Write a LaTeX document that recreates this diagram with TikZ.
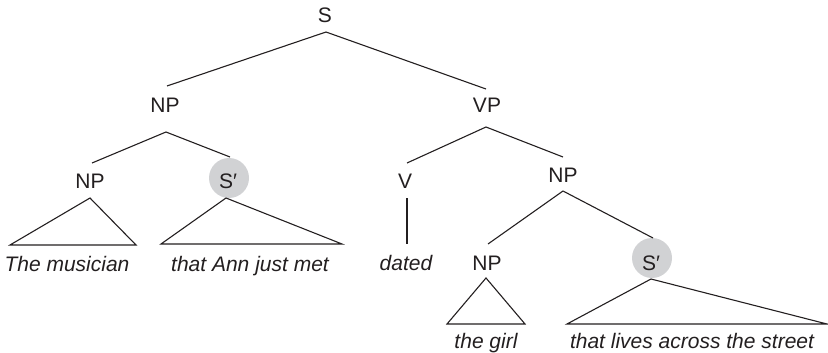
\documentclass[tikz,border=0pt]{standalone}
\usepackage{fontspec}
\setmainfont{Liberation Sans}
\definecolor{ink}{HTML}{231F20}
\definecolor{hlgray}{HTML}{D1D2D4}
\begin{document}
\begin{tikzpicture}[x=1pt,y=-1pt,
  lab/.style={anchor=base, inner sep=0pt, font=\fontsize{21}{25}\selectfont, text=ink},
  leaf/.style={anchor=base, inner sep=0pt, font=\fontsize{21}{25}\selectfont\itshape, text=ink},
  hl/.style={circle, fill=hlgray, minimum size=40pt, inner sep=0pt},
  edge/.style={draw=ink, line width=1.1pt}]
\useasboundingbox (0,0) rectangle (828,353);

% highlight circles
\node[hl] (c1) at (229,178) {};
\node[hl] (c2) at (652,258) {};

% labels
\node[lab] (S) at (325,23) {S};
\node[lab] (NPa) at (165,113) {NP};
\node[lab] (VP) at (487,113) {VP};
\node[lab] (NPb) at (90,188) {NP};
\node[lab] (Sa) at (228,188) {S′};
\node[lab] (V) at (405,188) {V};
\node[lab] (NPc) at (563,182) {NP};
\node[lab] (NPd) at (487,270) {NP};
\node[lab] (Sb) at (651,270) {S′};

% leaves
\node[leaf] (l1) at (67,271) {The musician};
\node[leaf] (l2) at (250,271) {that Ann just met};
\node[leaf] (l3) at (406,270) {dated};
\node[leaf] (l4) at (486,348) {the girl};
\node[leaf] (l5) at (692,348) {that lives across the street};

% connector end points
\coordinate (sB) at (326,32);
\coordinate (npaT) at (167,86);
\coordinate (vpT) at (486,89);
\coordinate (npaB) at (166,132);
\coordinate (npbT) at (92,163);
\coordinate (saT) at (230,157);
\coordinate (vpB) at (486,127);
\coordinate (vT) at (407,163);
\coordinate (npcT) at (563,157);
\coordinate (vB) at (407,198);
\coordinate (l3T) at (407,244);
\coordinate (npcB) at (563,191);
\coordinate (npdT) at (488,244);
\coordinate (sbT) at (653,238);
% triangles
\coordinate (t1a) at (90,198);  \coordinate (t1l) at (10,245);  \coordinate (t1r) at (136,245);
\coordinate (t2a) at (226,198); \coordinate (t2l) at (161,244); \coordinate (t2r) at (342,244);
\coordinate (t3a) at (486,278); \coordinate (t3l) at (447,324); \coordinate (t3r) at (525,324);
\coordinate (t4a) at (651,279); \coordinate (t4l) at (567,324); \coordinate (t4r) at (827,324);

% branches
\draw[edge] (npaT) -- (sB) -- (vpT);
\draw[edge] (npbT) -- (npaB) -- (saT);
\draw[edge] (vT) -- (vpB) -- (npcT);
\draw[edge] (vB) -- (l3T);
\draw[edge] (npdT) -- (npcB) -- (sbT);
\draw[edge] (t1a) -- (t1l) -- (t1r) -- cycle;
\draw[edge] (t2a) -- (t2l) -- (t2r) -- cycle;
\draw[edge] (t3a) -- (t3l) -- (t3r) -- cycle;
\draw[edge] (t4a) -- (t4l) -- (t4r) -- cycle;
\end{tikzpicture}
\end{document}
